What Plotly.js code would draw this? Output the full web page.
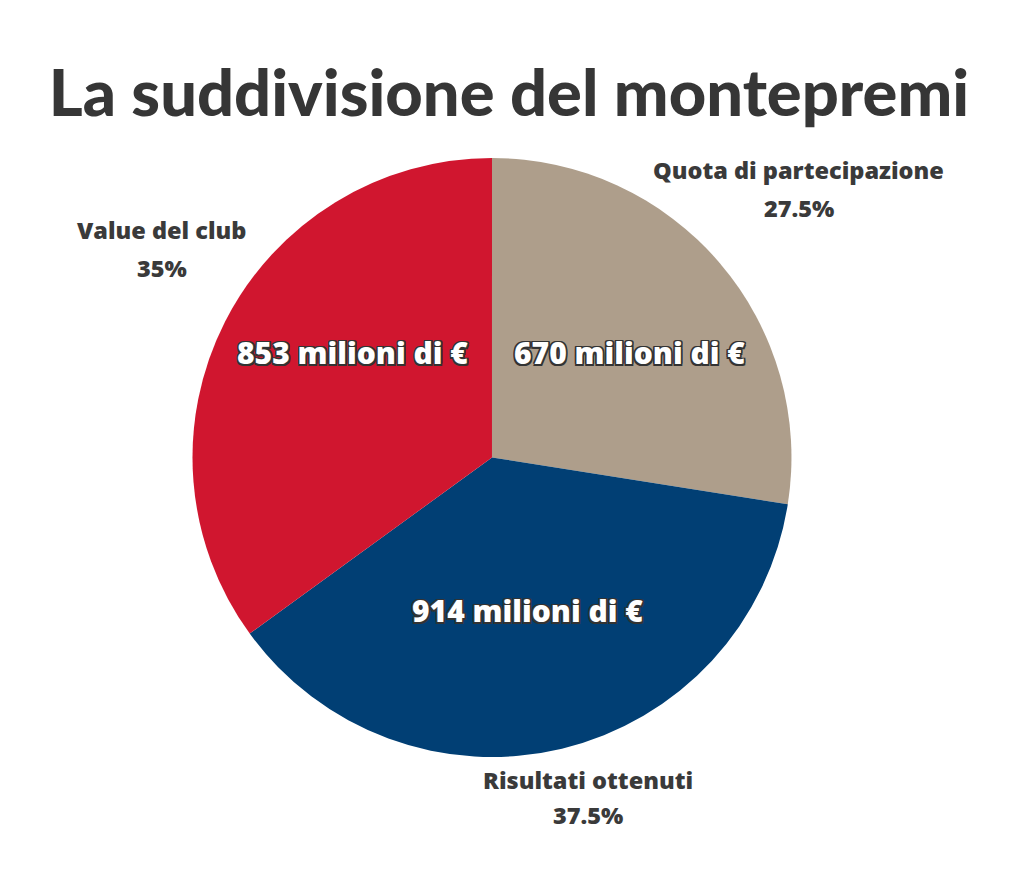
<!DOCTYPE html>
<html>
<head>
<meta charset="utf-8">
<script src="https://cdn.plot.ly/plotly-3.0.1.min.js"></script>
<style>html,body{margin:0;padding:0;background:#fff;}#chart{width:1024px;height:873px;}</style>
</head>
<body>
<div id="chart"></div>
<script>
const categories = ["Quota di partecipazione", "Risultati ottenuti", "Value del club"];
const valuesMln = [670, 914, 853];
const percentLabels = ["27.5%", "37.5%", "35%"];
const sliceColors = ["#AE9E8B", "#013F74", "#D0162F"];

// label placement (paper coords) — layout only
const namePos = [[0.780, 0.805], [0.574, 0.106], [0.158, 0.737]];
const pctPos  = [[0.780, 0.762], [0.574, 0.066], [0.158, 0.693]];
const innerPos = [[0.615, 0.596], [0.515, 0.301], [0.344, 0.596]];

const outline = "1.5px 1.5px 0 #333, -1.5px -1.5px 0 #333, 1.5px -1.5px 0 #333, -1.5px 1.5px 0 #333, 0 1.5px 0 #333, 0 -1.5px 0 #333, 1.5px 0 0 #333, -1.5px 0 0 #333";
const labelFont = {family: "'Open Sans', sans-serif", size: 23.5, weight: 800, color: "#3a3a3a"};

const annotations = [];
categories.forEach((c, i) => {
  annotations.push({
    xref: "paper", yref: "paper", x: namePos[i][0], y: namePos[i][1],
    text: c, showarrow: false, xanchor: "center", yanchor: "middle", font: labelFont
  });
  annotations.push({
    xref: "paper", yref: "paper", x: pctPos[i][0], y: pctPos[i][1],
    text: percentLabels[i], showarrow: false, xanchor: "center", yanchor: "middle", font: labelFont
  });
  annotations.push({
    xref: "paper", yref: "paper", x: innerPos[i][0], y: innerPos[i][1],
    text: valuesMln[i] + " milioni di €", showarrow: false,
    xanchor: "center", yanchor: "middle",
    font: {family: "'Open Sans', sans-serif", size: 30, weight: 800, color: "#ffffff", shadow: outline}
  });
});

const data = [{
  type: "pie",
  labels: categories,
  values: valuesMln,
  marker: {colors: sliceColors, line: {width: 0}},
  sort: false,
  direction: "clockwise",
  rotation: 0,
  textinfo: "none",
  hoverinfo: "label+value+percent",
  domain: {x: [0.1875, 0.7734], y: [0.1329, 0.819]},
  showlegend: false
}];

const layout = {
  width: 1024, height: 873,
  margin: {l: 0, r: 0, t: 0, b: 0},
  paper_bgcolor: "#ffffff",
  title: {
    text: "La suddivisione del montepremi",
    x: 0.497, xanchor: "center", y: 0.893, yanchor: "middle",
    font: {family: "Lato, 'Open Sans', sans-serif", size: 65, weight: 900, color: "#363636"}
  },
  annotations: annotations,
  showlegend: false
};

Plotly.newPlot("chart", data, layout, {displayModeBar: false});
</script>
</body>
</html>
